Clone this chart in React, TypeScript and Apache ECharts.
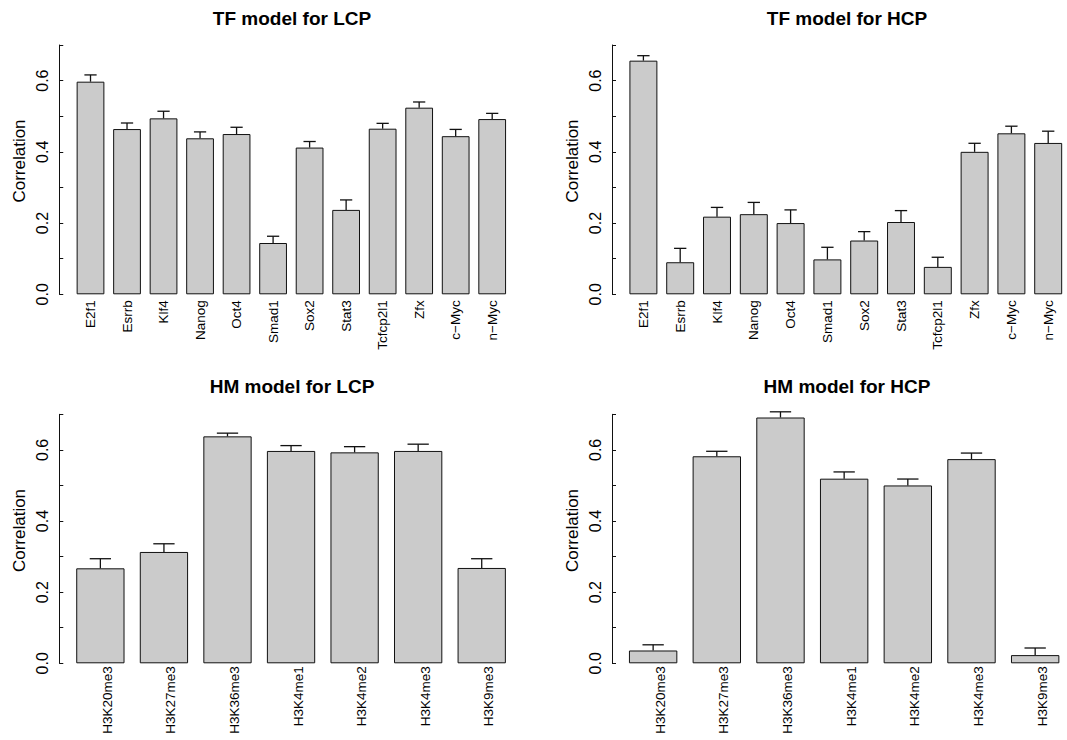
import React, { useEffect, useRef } from "react";
import * as echarts from "echarts";

const titles = ["TF model for LCP", "TF model for HCP", "HM model for LCP", "HM model for HCP"];
const yAxisLabel = "Correlation";

const tfCategories = ["E2f1", "Esrrb", "Klf4", "Nanog", "Oct4", "Smad1", "Sox2", "Stat3", "Tcfcp2l1", "Zfx", "c\u2212Myc", "n\u2212Myc"];
const tfLcpMean = [0.597, 0.464, 0.494, 0.438, 0.450, 0.144, 0.412, 0.237, 0.465, 0.524, 0.444, 0.492];
const tfLcpUpper = [0.616, 0.481, 0.514, 0.456, 0.469, 0.163, 0.429, 0.265, 0.480, 0.540, 0.463, 0.508];
const tfHcpMean = [0.656, 0.090, 0.218, 0.225, 0.200, 0.098, 0.151, 0.203, 0.077, 0.400, 0.452, 0.425];
const tfHcpUpper = [0.670, 0.129, 0.244, 0.258, 0.237, 0.132, 0.176, 0.235, 0.104, 0.424, 0.472, 0.458];

const hmCategories = ["H3K20me3", "H3K27me3", "H3K36me3", "H3K4me1", "H3K4me2", "H3K4me3", "H3K9me3"];
const hmLcpMean = [0.267, 0.313, 0.638, 0.597, 0.593, 0.597, 0.268];
const hmLcpUpper = [0.294, 0.336, 0.647, 0.612, 0.609, 0.616, 0.294];
const hmHcpMean = [0.036, 0.582, 0.691, 0.519, 0.500, 0.574, 0.023];
const hmHcpUpper = [0.052, 0.596, 0.707, 0.538, 0.518, 0.591, 0.043];

const yMin = 0;
const yMax = 0.7;
const yStep = 0.1;

const FONT = "'Liberation Sans', Arial, Helvetica, sans-serif";
const BAR_FILL = "#cbcbcb";
const INK = "#111111";

const panels = [
  { title: titles[0], cats: tfCategories, mean: tfLcpMean, upper: tfLcpUpper,
    grid: { left: 72.25, top: 45, width: 438.2, height: 249.3 }, yOffset: 13, shifted: false, labelMargin: 6,
    titleX: 292, titleY: 18, ylabX: 19, ylabY: 161 },
  { title: titles[1], cats: tfCategories, mean: tfHcpMean, upper: tfHcpUpper,
    grid: { left: 625, top: 45, width: 441.6, height: 249.3 }, yOffset: 13, shifted: false, labelMargin: 6,
    titleX: 847, titleY: 18, ylabX: 572, ylabY: 161 },
  { title: titles[2], cats: hmCategories, mean: hmLcpMean, upper: hmLcpUpper,
    grid: { left: 68.6, top: 414.3, width: 444.9, height: 249 }, yOffset: 9.3, shifted: true, labelMargin: 3,
    titleX: 292, titleY: 386.5, ylabX: 19, ylabY: 530.5 },
  { title: titles[3], cats: hmCategories, mean: hmHcpMean, upper: hmHcpUpper,
    grid: { left: 621.3, top: 414.3, width: 448, height: 249 }, yOffset: 9.3, shifted: true, labelMargin: 3,
    titleX: 847, titleY: 386.5, ylabX: 572, ylabY: 530.5 },
];

function buildOption() {
  const grid: any[] = [];
  const xAxis: any[] = [];
  const yAxis: any[] = [];
  const series: any[] = [];
  const graphic: any[] = [];

  panels.forEach((p, i) => {
    grid.push({ ...p.grid, containLabel: false });
    const xLabel: any = {
      rotate: 90,
      interval: 0,
      margin: p.labelMargin,
      fontFamily: FONT,
      fontSize: 13.5,
      color: "#000",
    };
    if (p.shifted) xLabel.verticalAlign = "top";
    xAxis.push({
      type: "category",
      gridIndex: i,
      data: p.cats,
      boundaryGap: true,
      axisLine: { show: false },
      axisTick: { show: false },
      splitLine: { show: false },
      axisLabel: xLabel,
    });
    yAxis.push({
      type: "value",
      gridIndex: i,
      min: yMin,
      max: yMax,
      interval: yStep,
      offset: p.yOffset,
      axisLine: { show: true, lineStyle: { color: INK, width: 1 } },
      axisTick: { show: true, inside: true, length: 4, lineStyle: { color: INK, width: 1 } },
      splitLine: { show: false },
      axisLabel: {
        rotate: 90,
        margin: 9,
        fontFamily: FONT,
        fontSize: 16,
        color: "#000",
        formatter: (v: number) => {
          const k = Math.round(v * 10);
          return k % 2 === 0 && k <= 6 ? v.toFixed(1) : "";
        },
      },
    });
    series.push({
      type: "bar",
      xAxisIndex: i,
      yAxisIndex: i,
      data: p.mean,
      barCategoryGap: "24%",
      itemStyle: { color: BAR_FILL, borderColor: INK, borderWidth: 1 },
      silent: true,
    });
    series.push({
      type: "custom",
      xAxisIndex: i,
      yAxisIndex: i,
      clip: false,
      z: 5,
      data: p.mean.map((m, j) => [j, m, p.upper[j]]),
      encode: { x: 0, y: [1, 2] },
      renderItem: (params: any, api: any) => {
        const x = api.value(0);
        const lo = api.value(1);
        const hi = api.value(2);
        const a = api.coord([x, lo]);
        const b = api.coord([x, hi]);
        const band = api.size([1, 0])[0];
        const half = (band * 0.335) / 2;
        const style = { stroke: INK, lineWidth: 1.3 };
        return {
          type: "group",
          children: [
            { type: "line", shape: { x1: a[0], y1: a[1], x2: b[0], y2: b[1] }, style },
            { type: "line", shape: { x1: b[0] - half, y1: b[1], x2: b[0] + half, y2: b[1] }, style },
          ],
        };
      },
    });
    graphic.push({
      type: "text",
      x: p.titleX,
      y: p.titleY,
      style: {
        text: p.title,
        fontFamily: FONT,
        fontWeight: "bold",
        fontSize: 19,
        fill: "#000",
        align: "center",
        verticalAlign: "middle",
      },
    });
    graphic.push({
      type: "text",
      x: p.ylabX,
      y: p.ylabY,
      rotation: Math.PI / 2,
      style: {
        text: yAxisLabel,
        fontFamily: FONT,
        fontSize: 17,
        fill: "#000",
        align: "center",
        verticalAlign: "middle",
      },
    });
  });

  return {
    animation: false,
    backgroundColor: "#ffffff",
    grid,
    xAxis,
    yAxis,
    series,
    graphic,
  };
}

export default function App() {
  const ref = useRef<HTMLDivElement>(null);
  useEffect(() => {
    if (!ref.current) return;
    const chart = echarts.init(ref.current, undefined, { renderer: "svg" });
    chart.setOption(buildOption() as any);
    return () => chart.dispose();
  }, []);
  return (
    <div
      ref={ref}
      style={{ position: "fixed", left: 0, top: 0, width: 1067, height: 740, background: "#fff" }}
    />
  );
}
